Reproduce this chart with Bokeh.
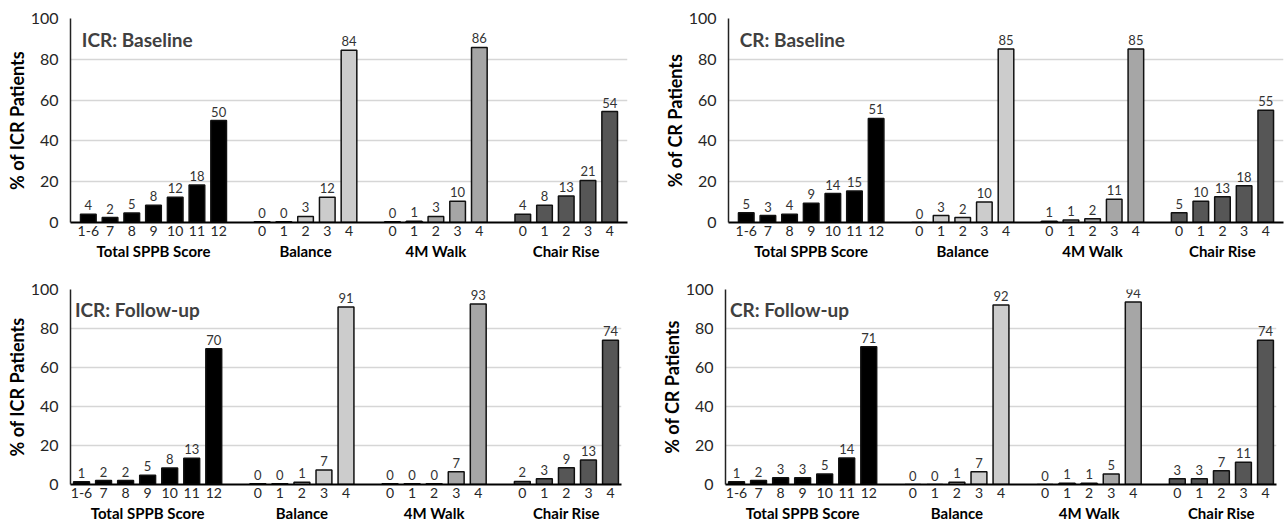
from bokeh.plotting import figure
from bokeh.models import FactorRange, Range1d, ColumnDataSource, Label, SingleIntervalTicker
from bokeh.layouts import column, row
from bokeh.embed import file_html
from bokeh.resources import INLINE
from bokeh.core.properties import value

groups = ["Total SPPB Score", "Balance", "4M Walk", "Chair Rise"]
sppb_cats = ["1-6", "7", "8", "9", "10", "11", "12"]
comp_cats = ["0", "1", "2", "3", "4"]
group_colors = ["#000000", "#cccccc", "#a6a6a6", "#565656"]

# ICR baseline
icr_base_sppb = [4.0, 2.4, 4.6, 8.4, 12.4, 18.4, 50.0]
icr_base_bal = [0.4, 0.4, 3.0, 12.4, 84.4]
icr_base_walk = [0.4, 0.6, 3.0, 10.4, 85.8]
icr_base_chair = [4.0, 8.4, 13.0, 20.6, 54.4]
# CR baseline
cr_base_sppb = [4.8, 3.4, 4.0, 9.4, 14.2, 15.4, 51.0]
cr_base_bal = [0.0, 3.4, 2.4, 10.0, 85.0]
cr_base_walk = [0.6, 1.2, 1.8, 11.4, 85.0]
cr_base_chair = [4.8, 10.4, 12.6, 18.0, 55.0]
# ICR follow-up
icr_fu_sppb = [1.4, 2.0, 2.0, 4.8, 8.4, 13.4, 69.6]
icr_fu_bal = [0.4, 0.4, 1.2, 7.4, 91.0]
icr_fu_walk = [0.4, 0.4, 0.4, 6.6, 92.6]
icr_fu_chair = [1.6, 3.0, 8.6, 12.6, 74.0]
# CR follow-up
cr_fu_sppb = [1.4, 2.0, 3.4, 3.4, 5.4, 13.6, 70.6]
cr_fu_bal = [0.0, 0.0, 1.2, 6.6, 92.0]
cr_fu_walk = [0.0, 0.6, 0.6, 5.4, 93.6]
cr_fu_chair = [3.0, 3.0, 7.0, 11.4, 74.0]

titles = ["ICR: Baseline", "CR: Baseline", "ICR: Follow-up", "CR: Follow-up"]
ylabels = ["% of ICR Patients", "% of CR Patients", "% of ICR Patients", "% of CR Patients"]

FONT = "Lato"


def make_panel(series, title, ylabel, width, height, bl, br, bt, bb, pad):
    xs, vs, cols, lbls = [], [], [], []
    for gi, (g, vals) in enumerate(zip(groups, series)):
        cats = sppb_cats if gi == 0 else comp_cats
        for c, v in zip(cats, vals):
            xs.append((g, c))
            vs.append(v)
            cols.append(group_colors[gi])
            lbls.append(f"{v:.0f}")
    src = ColumnDataSource(dict(x=xs, v=vs, color=cols, lbl=lbls))
    xr = FactorRange(*xs, group_padding=1.0, factor_padding=0.0,
                     range_padding=pad, range_padding_units="absolute")
    p = figure(x_range=xr, y_range=Range1d(0, 100), width=width, height=height,
               output_backend="svg", toolbar_location=None,
               min_border_left=bl, min_border_right=br, min_border_top=bt,
               min_border_bottom=bb)
    p.outline_line_color = None
    p.background_fill_color = "white"
    p.xgrid.grid_line_color = None
    p.ygrid.grid_line_color = "#d6d6d6"
    p.ygrid.grid_line_width = 1.5
    p.yaxis.ticker = SingleIntervalTicker(interval=20)
    p.yaxis.axis_line_color = "#222222"
    p.yaxis.axis_line_width = 1.5
    p.yaxis.major_tick_line_color = None
    p.yaxis.minor_tick_line_color = None
    p.yaxis.major_tick_out = 0
    p.yaxis.major_tick_in = 0
    p.yaxis.major_label_text_font = FONT
    p.yaxis.major_label_text_font_size = "16px"
    p.yaxis.major_label_text_color = "#262626"
    p.yaxis.major_label_standoff = 8
    p.yaxis.axis_label = ylabel
    p.yaxis.axis_label_text_font = FONT
    p.yaxis.axis_label_text_font_size = "18px"
    p.yaxis.axis_label_text_font_style = "bold"
    p.yaxis.axis_label_text_color = "#000000"
    p.yaxis.axis_label_standoff = 0

    p.xaxis.axis_line_color = "#000000"
    p.xaxis.axis_line_width = 2
    p.xaxis.major_tick_line_color = None
    p.xaxis.minor_tick_line_color = None
    p.xaxis.major_tick_out = 0
    p.xaxis.major_tick_in = 0
    p.xaxis.separator_line_color = None
    p.xaxis.major_label_text_font = FONT
    p.xaxis.major_label_text_font_size = "14px"
    p.xaxis.major_label_text_color = "#262626"
    p.xaxis.major_label_standoff = 3
    p.xaxis.group_text_font = FONT
    p.xaxis.group_text_font_size = "15px"
    p.xaxis.group_text_font_style = "bold"
    p.xaxis.group_text_color = "#000000"

    p.vbar(x="x", top="v", width=0.72, source=src, fill_color="color",
           line_color="#111111", line_width=1.5)
    p.text(x="x", y="v", text="lbl", source=src, text_align="center",
           text_baseline="bottom", y_offset=-4, text_font=value(FONT),
           text_font_size="13px", text_color="#333333")
    p.add_layout(Label(x=0.2, y=89.5, text=title, text_align="left",
                       text_baseline="middle", text_font=FONT,
                       text_font_size="19px", text_font_style="bold",
                       text_color="#404040"))
    return p


p1 = make_panel([icr_base_sppb, icr_base_bal, icr_base_walk, icr_base_chair],
                titles[0], ylabels[0], 640, 264, 70, 13, 18, 42, 0.32)
p2 = make_panel([cr_base_sppb, cr_base_bal, cr_base_walk, cr_base_chair],
                titles[1], ylabels[1], 646, 264, 88, 3, 18, 42, 0.32)
p3 = make_panel([icr_fu_sppb, icr_fu_bal, icr_fu_walk, icr_fu_chair],
                titles[2], ylabels[2], 640, 260, 70, 19, 25, 40, 0.0)
p4 = make_panel([cr_fu_sppb, cr_fu_bal, cr_fu_walk, cr_fu_chair],
                titles[3], ylabels[3], 646, 260, 85, 10, 25, 40, 0.0)

layout = column(row(p1, p2), row(p3, p4))
open("out.html", "w").write(file_html(layout, INLINE))
